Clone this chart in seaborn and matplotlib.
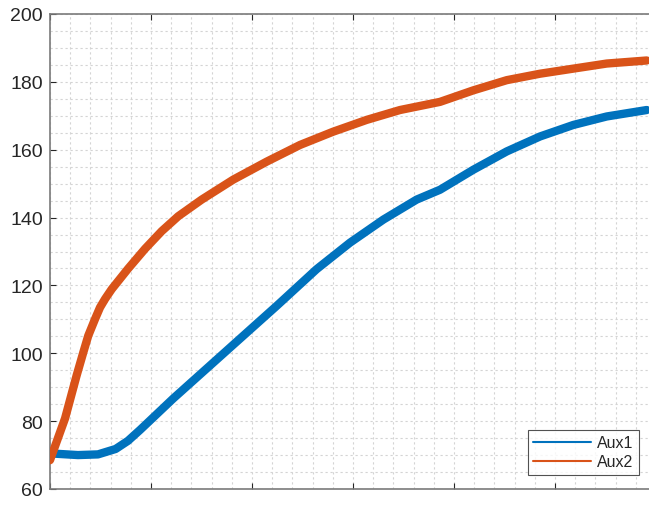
import matplotlib
matplotlib.use("Agg")
import matplotlib.pyplot as plt
import seaborn as sns
import pandas as pd
from matplotlib.ticker import MultipleLocator, NullFormatter
from matplotlib.lines import Line2D

# ---- data ----
aux2_t = [0.0, 0.149, 0.264, 0.330, 0.379, 0.446, 0.495, 0.545, 0.611, 0.775,
          0.941, 1.106, 1.270, 1.502, 1.815, 2.146, 2.475, 2.802, 3.136, 3.465,
          3.861, 4.191, 4.522, 4.851, 5.181, 5.512, 5.908]
aux2_v = [68.5, 80.8, 93.5, 100.3, 105.2, 110.1, 113.5, 116.0, 118.9, 125.0,
          130.8, 136.0, 140.4, 145.3, 151.2, 156.5, 161.4, 165.3, 168.8, 171.7,
          174.1, 177.5, 180.5, 182.4, 183.9, 185.4, 186.3]

aux1_t = [0.0, 0.277, 0.475, 0.650, 0.772, 0.891, 1.221, 1.551, 1.881, 2.245,
          2.640, 2.970, 3.300, 3.630, 3.861, 4.191, 4.522, 4.851, 5.181, 5.512,
          5.908]
aux1_v = [70.5, 70.0, 70.2, 71.8, 74.2, 77.4, 86.7, 95.5, 104.3, 114.0,
          124.8, 132.6, 139.4, 145.3, 148.2, 154.1, 159.5, 163.9, 167.3, 169.8,
          171.7]

series_names = ["Aux1", "Aux2"]
y_ticks = [60, 80, 100, 120, 140, 160, 180, 200]

df = pd.concat([
    pd.DataFrame({"t": aux1_t, "v": aux1_v, "s": series_names[0]}),
    pd.DataFrame({"t": aux2_t, "v": aux2_v, "s": series_names[1]}),
])

sns.set_style("white")
plt.rcParams["font.family"] = ["Liberation Sans", "DejaVu Sans"]

fig = plt.figure(figsize=(6.49, 5.06), dpi=100)
ax = fig.add_axes([50 / 649, 1 - 490 / 506, 600 / 649, 475 / 506])

palette = {"Aux1": "#0072BD", "Aux2": "#D95319"}
sns.lineplot(data=df, x="t", y="v", hue="s", palette=palette, ax=ax,
             linewidth=6, sort=False, legend=False, zorder=3)
for ln in ax.lines:
    ln.set_solid_joinstyle("round")
    ln.set_solid_capstyle("round")

ax.set_xlim(0, 5.94)
ax.set_ylim(60, 200)
ax.set_yticks(y_ticks)
ax.xaxis.set_major_locator(MultipleLocator(1))
ax.xaxis.set_minor_locator(MultipleLocator(0.2))
ax.yaxis.set_minor_locator(MultipleLocator(5))
ax.xaxis.set_major_formatter(NullFormatter())
ax.set_xlabel("")
ax.set_ylabel("")

ax.grid(True, which="both", color="#d4d4d4", linestyle=(0, (2, 2.5)), linewidth=0.8, zorder=0)
ax.set_axisbelow(True)

for sp in ax.spines.values():
    sp.set_color("#7a7a7a")
    sp.set_linewidth(1.2)

ax.tick_params(axis="both", which="major", direction="in", length=4, width=0.8,
               color="#262626", labelsize=14, labelcolor="#262626",
               top=True, bottom=True, left=True, right=False)
ax.tick_params(axis="both", which="minor", length=0)
ax.tick_params(axis="y", pad=5)

handles = [Line2D([], [], color=palette[n], lw=1.5) for n in series_names]
leg = ax.legend(handles, series_names, loc="lower right",
                bbox_to_anchor=(589 / 600, 14 / 475), fontsize=11.5,
                frameon=True, fancybox=False, edgecolor="#262626",
                handlelength=3.6, borderpad=0.35, labelspacing=0.25,
                handletextpad=0.4, borderaxespad=0)
leg.get_frame().set_linewidth(0.8)

fig.savefig("out.png", dpi=100)
